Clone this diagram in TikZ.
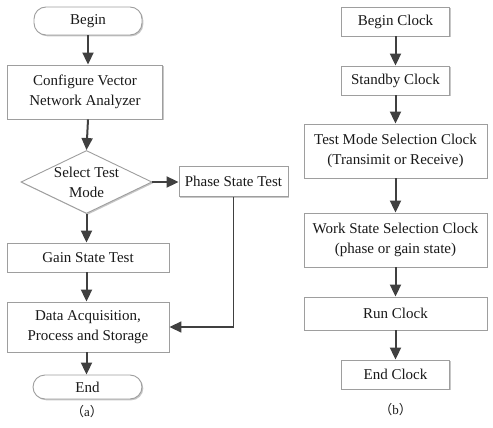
\documentclass[tikz,border=0pt]{standalone}
\usepackage{fontspec}
\setmainfont{Liberation Serif}
\newfontfamily\cjk{Noto Sans CJK SC}
\usetikzlibrary{arrows.meta,shapes.geometric,shadows}
\begin{document}
\begin{tikzpicture}[x=1pt,y=-1pt,
  every node/.style={font=\fontsize{15}{20}\selectfont, text=black!90, inner sep=0pt},
  boxstyle/.style={draw=black!38, line width=0.9pt, fill=white, align=center,
     drop shadow={shadow xshift=1.3pt, shadow yshift=-1.3pt, fill=black!22, opacity=1}},
  termstyle/.style={boxstyle, rounded corners=#1},
  flowarrow/.style={draw=black!75, line width=2pt, -{Triangle[length=12pt,width=11pt]}},
  capstyle/.style={font=\fontsize{13}{15}\selectfont}
]
\useasboundingbox (0,0) rectangle (493,428);

% ---- (a) ----
\node[termstyle=12pt, minimum width=108pt, minimum height=28pt] (begin) at (88,21) {Begin};
\node[boxstyle, minimum width=155pt, minimum height=54pt] (config) at (85,92) {Configure Vector\\Network Analyzer};
\node[diamond, draw=black!38, line width=0.9pt, fill=white, minimum width=131pt, minimum height=63pt,
      drop shadow={shadow xshift=1.3pt, shadow yshift=-1.3pt, fill=black!22, opacity=1}] (sel) at (86.5,182) {};
\node[align=center] (seltext) at (86.5,182) {Select Test\\Mode};
\node[boxstyle, minimum width=109pt, minimum height=30pt] (phase) at (233.5,181.5) {Phase State Test};
\node[boxstyle, minimum width=162pt, minimum height=29pt] (gain) at (88,257.5) {Gain State Test};
\node[boxstyle, minimum width=162pt, minimum height=50pt] (data) at (88,327) {Data Acquisition,\\Process and Storage};
\node[termstyle=12pt, minimum width=109pt, minimum height=24pt] (end) at (87.5,387) {End};
\node[capstyle] (capa) at (87,412) {{\cjk （}a{\cjk ）}};

\draw[flowarrow] (begin.south) -- (begin.south |- config.north);
\draw[flowarrow] (begin.south |- config.south) -- (sel.north);
\draw[flowarrow] (sel.east) -- (sel.east -| phase.west);
\draw[flowarrow] (sel.south) -- (sel.south |- gain.north);
\draw[flowarrow] (sel.south |- gain.south) -- (sel.south |- data.north);
\draw[flowarrow, line width=1.7pt] (phase.south) |- (data.east);
\draw[flowarrow] (sel.south |- data.south) -- (sel.south |- end.north);

% ---- (b) ----
\node[boxstyle, minimum width=108pt, minimum height=29pt] (bclk) at (395.5,21.5) {Begin Clock};
\node[boxstyle, minimum width=108pt, minimum height=29pt] (sclk) at (395.5,80.5) {Standby Clock};
\node[boxstyle, minimum width=183pt, minimum height=54pt] (tclk) at (395.5,151) {Test Mode Selection Clock\\(Transimit or Receive)};
\node[boxstyle, minimum width=183pt, minimum height=54pt] (wclk) at (395.5,240) {Work State Selection Clock\\(phase or gain state)};
\node[boxstyle, minimum width=183pt, minimum height=33pt] (rclk) at (395.5,313.5) {Run Clock};
\node[boxstyle, minimum width=108pt, minimum height=29pt] (eclk) at (395.5,374.5) {End Clock};
\node[capstyle] (capb) at (395.5,410) {{\cjk （}b{\cjk ）}};

\draw[flowarrow] (bclk) -- (sclk);
\draw[flowarrow] (sclk) -- (tclk);
\draw[flowarrow] (tclk) -- (wclk);
\draw[flowarrow] (wclk) -- (rclk);
\draw[flowarrow] (rclk) -- (eclk);
\end{tikzpicture}
\end{document}
